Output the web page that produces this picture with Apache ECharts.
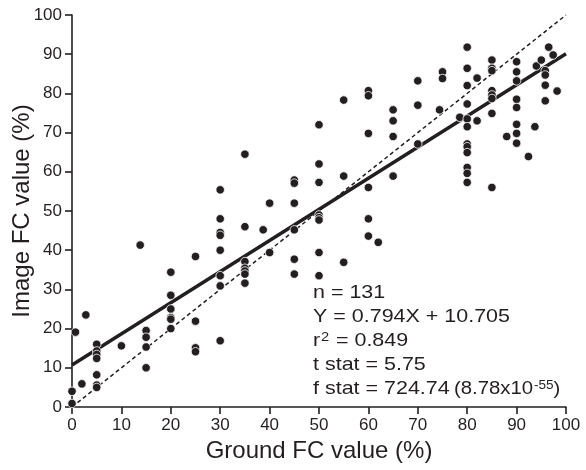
<!DOCTYPE html>
<html><head><meta charset="utf-8">
<script src="https://cdn.jsdelivr.net/npm/echarts@6/dist/echarts.min.js"></script>
<style>html,body{margin:0;padding:0;background:#fff}#c{width:586px;height:470px}</style>
</head><body><div id="c"></div>
<script>
// Ground FC (x) and Image FC (y) values, paired by index
const groundFC = [0,0,0.7,2,2.8,
 5,5,5,5,5,5,5,
 10,13.8,
 15,15,15,15,
 20,20,20,20,20,20,
 25,25,25,25,
 30,30,30,30,30,30,30,30,
 35,35,35,35,35,35,35,
 38.7,40,40,
 45,45,45,45,45,45,
 50,50,50,50,50,50,50,50,
 55,55,55,
 60,60,60,60,60,60,62,
 65,65,65,65,
 70,70,70,74.4,75,75,78.5,
 80,80,80,80,80,80,80,80,80,80,80,80,
 82,82,
 85,85,85,85,85,85,85,85,
 88,
 90,90,90,90,90,90,90,90,
 92.4,93.7,94,95,
 95.8,95.8,95.8,95.8,
 96.5,97.4,98.2];
const imageFC = [0.9,4.0,19.1,5.9,23.5,
 16,14.3,13.4,12.4,8.2,5.6,5.0,
 15.6,41.3,
 19.5,17.8,15.3,10.0,
 34.4,28.5,25.0,22.8,22.4,20.0,
 38.4,21.9,15.1,14.1,
 55.4,48,44.5,43.8,40,33.5,30.9,16.9,
 64.5,46.0,37.1,35.4,34.7,33.9,31.6,
 45.2,52.0,39.4,
 57.9,57.1,52.0,45.2,37.7,33.9,
 72.0,62.0,57.3,49.0,48.3,47.7,39.4,33.5,
 78.3,58.9,36.9,
 80.7,79.4,69.8,56.0,48.0,43.6,42.0,
 75.8,73.0,69.0,58.9,
 83.2,77.0,67.1,75.8,85.5,83.8,73.9,
 91.8,86.4,82.0,77.3,73.5,71.5,67.1,66.4,64.9,61.1,59.6,57.3,
 83.9,73.0,
 88.5,86.4,85.8,80.7,79.6,78.7,74.9,56.0,
 69.0,
 88.1,85.5,83.2,78.5,76.4,72.1,69.8,67.3,
 63.9,71.5,87.0,88.5,
 85.8,84.7,82.1,78.1,
 91.8,89.8,80.6];
const regressionLine = [[0, 10.705], [100, 90.105]];
const oneToOneLine = [[0, 0], [100, 100]];
const xAxisName = 'Ground FC value (%)';
const yAxisName = 'Image FC value (%)';

const points = groundFC.map((x, i) => [x, imageFC[i]]);
const INK = '#231f20';
const FONT = '"Liberation Sans", Arial, Helvetica, sans-serif';

const chart = echarts.init(document.getElementById('c'), null, {renderer: 'canvas'});
const axisCommon = {
  type: 'value', min: 0, max: 100, interval: 10,
  nameLocation: 'middle',
  nameMoveOverlap: false,
  nameTextStyle: {fontSize: 24, color: INK, fontFamily: FONT},
  axisLine: {show: true, lineStyle: {color: INK, width: 1.6}},
  axisTick: {show: true, inside: false, length: 7, lineStyle: {color: INK, width: 1.6}},
  axisLabel: {fontSize: 17, color: INK, fontFamily: FONT, margin: 10},
  splitLine: {show: false}
};
const SX = 1.13;
const txt = (x, y, text, size) => ({
  type: 'text', x: x, y: y, scaleX: SX, z: 100,
  style: {x: 0, y: 0, text: text, font: size + 'px ' + FONT, fill: INK, verticalAlign: 'middle', align: 'left'}
});
chart.setOption({
  animation: false,
  backgroundColor: '#fff',
  grid: {left: 72, right: 20, top: 15, bottom: 63, containLabel: false, outerBoundsMode: 'none'},
  xAxis: Object.assign({}, axisCommon, {name: xAxisName, nameGap: 32}),
  yAxis: Object.assign({}, axisCommon, {name: yAxisName, nameGap: 38}),
  series: [
    {type: 'line', data: oneToOneLine, symbol: 'none', z: 2, silent: true,
     lineStyle: {color: INK, width: 1.5, type: [4, 3]}},
    {type: 'line', data: regressionLine, symbol: 'none', z: 3, silent: true,
     lineStyle: {color: INK, width: 3.5}},
    {type: 'scatter', data: points, symbolSize: 8.5, z: 4, clip: false,
     itemStyle: {color: INK, borderColor: '#fff', borderWidth: 0.8, opacity: 1}}
  ],
  graphic: [
    txt(313, 293.2, 'n = 131', 19),
    txt(313, 317.2, 'Y = 0.794X + 10.705', 19),
    txt(313, 341.2, 'r', 19),
    txt(321, 337.7, '2', 13),
    txt(330, 341.2, ' = 0.849', 19),
    txt(313, 365.2, 't stat = 5.75', 19),
    txt(313, 389.2, 'f stat = 724.74', 19),
    txt(454, 389.5, '(8.78x10', 18),
    txt(534, 386, '-55', 12),
    txt(553.5, 389.5, ')', 18)
  ]
});
</script></body></html>
